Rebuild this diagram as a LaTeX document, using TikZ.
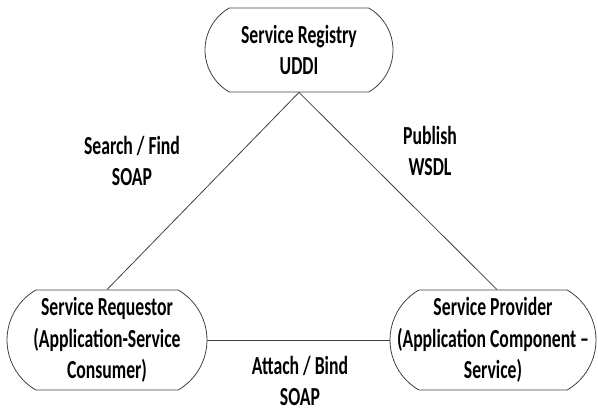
\documentclass[tikz,border=0pt]{standalone}
\usepackage{fontspec}
\setmainfont{Carlito}[FakeStretch=0.68]
\usepackage{tikz}
\usetikzlibrary{shapes.misc}

\newcommand{\ctrline}[1]{\makebox[0pt]{#1}}

\tikzset{
  svc/.style={shape=rounded rectangle, rounded rectangle arc length=120,
    draw=black!75, line width=0.8pt, align=center, inner sep=0pt},
  lbl/.style={align=center, inner sep=0pt},
  link/.style={draw=black!75, line width=0.8pt}
}

\begin{document}
\begin{tikzpicture}[x=1pt,y=-1pt,font=\fontsize{26}{31.5}\selectfont\bfseries]
        	\useasboundingbox (0,0) rectangle (598,412);
        	
        	\node[svc,minimum width=188pt,minimum height=84pt] (reg) at (299, 50) {\ctrline{Service Registry}\\\ctrline{UDDI}};
        	\node[svc,minimum width=200pt,minimum height=100pt] (req) at (107, 340) {\ctrline{Service Requestor}\\\ctrline{(Application-Service}\\\ctrline{Consumer)}};
        	\node[svc,minimum width=206pt,minimum height=100pt] (prov) at (493, 340) {\ctrline{Service Provider}\\\ctrline{(Application Component --}\\\ctrline{Service)}};
        	
        	\node[lbl] (find) at (132, 161) {Search / Find\\SOAP};
        	\node[lbl] (pub) at (430, 151) {Publish\\WSDL};
        	\node[lbl] (bind) at (300, 381) {Attach / Bind\\SOAP};
        	
        	\path[link] (reg.south) edge (req.north);
        	\path[link] (reg.south) edge ([xshift=4pt]prov.north);
            \path[link] (req.east) edge (prov.west);
            
        	\end{tikzpicture}
\end{document}
